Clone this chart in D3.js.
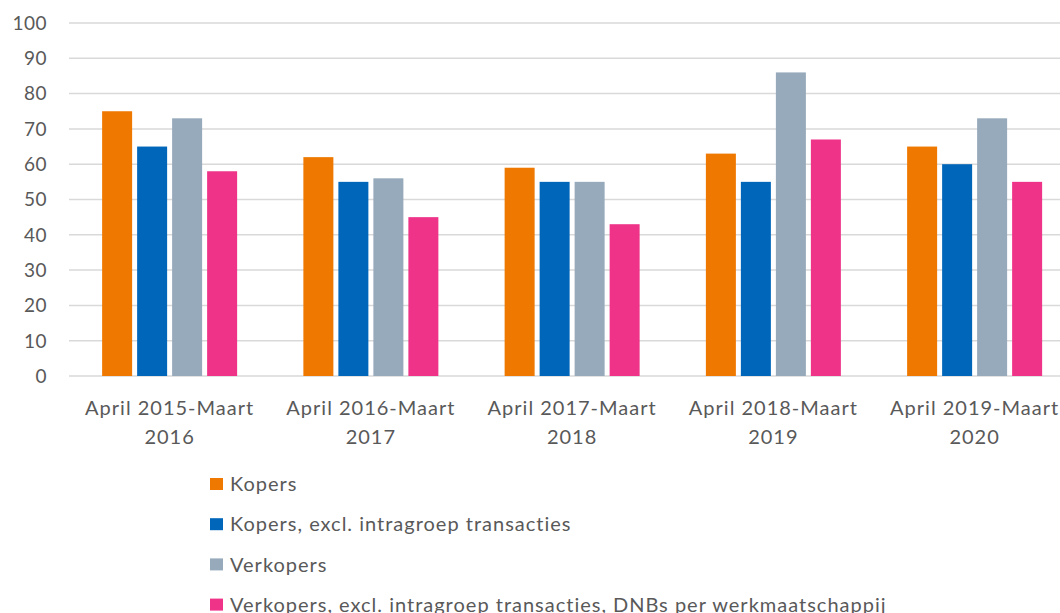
<!DOCTYPE html>
<html>
<head>
<meta charset="utf-8">
<script src="https://cdn.jsdelivr.net/npm/d3@7"></script>
<style>
  body { margin: 0; background: #fff; overflow: hidden; }
  text { font-family: Lato, "Open Sans", sans-serif; fill: #595959; }
</style>
</head>
<body>
<div id="chart"></div>
<script>
// categories and series
var periods = ["April 2015-Maart 2016", "April 2016-Maart 2017", "April 2017-Maart 2018", "April 2018-Maart 2019", "April 2019-Maart 2020"];
var seriesNames = ["Kopers", "Kopers, excl. intragroep transacties", "Verkopers", "Verkopers, excl. intragroep transacties, DNBs per werkmaatschappij"];
var kopers = [75, 62, 59, 63, 65];
var kopersExcl = [65, 55, 55, 55, 60];
var verkopers = [73, 56, 55, 86, 73];
var verkopersExcl = [58, 45, 43, 67, 55];
var colors = ["#EE7800", "#0066B9", "#96AABB", "#EE3388"];
var yTicks = [0, 10, 20, 30, 40, 50, 60, 70, 80, 90, 100];

var allSeries = [kopers, kopersExcl, verkopers, verkopersExcl];

var width = 1060, height = 613;
var margin = {top: 23, left: 69, bottom: 376};

var svg = d3.select("#chart")
    .append("svg")
    .attr("width", width)
    .attr("height", height);

var y = d3.scaleLinear()
    .domain([0, 100])
    .range([margin.bottom, margin.top]);

// the plot runs a little past the right edge of the window
var x0 = d3.scaleBand()
    .domain(periods)
    .range([margin.left, margin.left + 5 * 201.25])
    .padding(0);

var x1 = d3.scaleBand()
    .domain(d3.range(seriesNames.length))
    .range([0, 140]);

// gridlines
svg.append("g")
    .selectAll("line")
    .data(yTicks)
    .join("line")
    .attr("x1", margin.left)
    .attr("x2", width)
    .attr("y1", d => y(d))
    .attr("y2", d => y(d))
    .attr("stroke", "#d9d9d9")
    .attr("stroke-width", 1.5);

// y tick labels
svg.append("g")
    .selectAll("text")
    .data(yTicks)
    .join("text")
    .attr("x", 47)
    .attr("y", d => y(d))
    .attr("dy", "0.36em")
    .attr("text-anchor", "end")
    .style("font-size", "19px")
    .style("letter-spacing", "0.5px")
    .text(d => d);

// bars
var offset = (x0.bandwidth() - 140) / 2;
var groups = svg.append("g")
    .selectAll("g")
    .data(periods)
    .join("g")
    .attr("transform", d => `translate(${x0(d) + offset},0)`);

groups.selectAll("rect")
    .data((d, i) => allSeries.map((s, k) => ({k: k, v: s[i]})))
    .join("rect")
    .attr("x", d => x1(d.k) + 2.5)
    .attr("width", x1.bandwidth() - 5)
    .attr("y", d => y(d.v))
    .attr("height", d => y(0) - y(d.v))
    .attr("fill", d => colors[d.k]);

// x labels, split into "April 20xx-Maart" / "20yy"
var xl = svg.append("g")
    .selectAll("text")
    .data(periods)
    .join("text")
    .attr("text-anchor", "middle")
    .attr("y", 415)
    .style("font-size", "20px")
    .style("letter-spacing", "1px");

xl.append("tspan")
    .attr("x", d => x0(d) + x0.bandwidth() / 2)
    .text(d => d.match(/^(.*Maart) (\d{4})$/)[1]);
xl.append("tspan")
    .attr("x", d => x0(d) + x0.bandwidth() / 2)
    .attr("dy", 29)
    .text(d => d.match(/^(.*Maart) (\d{4})$/)[2]);

// legend
var legend = svg.append("g")
    .selectAll("g")
    .data(seriesNames)
    .join("g")
    .attr("transform", (d, i) => `translate(210, ${484 + i * 40.2})`);

legend.append("rect")
    .attr("x", 0)
    .attr("y", -6)
    .attr("width", 13)
    .attr("height", 12)
    .attr("fill", (d, i) => colors[i]);

legend.append("text")
    .attr("x", 20)
    .attr("dy", "0.36em")
    .style("font-size", "20px")
    .style("letter-spacing", "1px")
    .text(d => d);
</script>
</body>
</html>
